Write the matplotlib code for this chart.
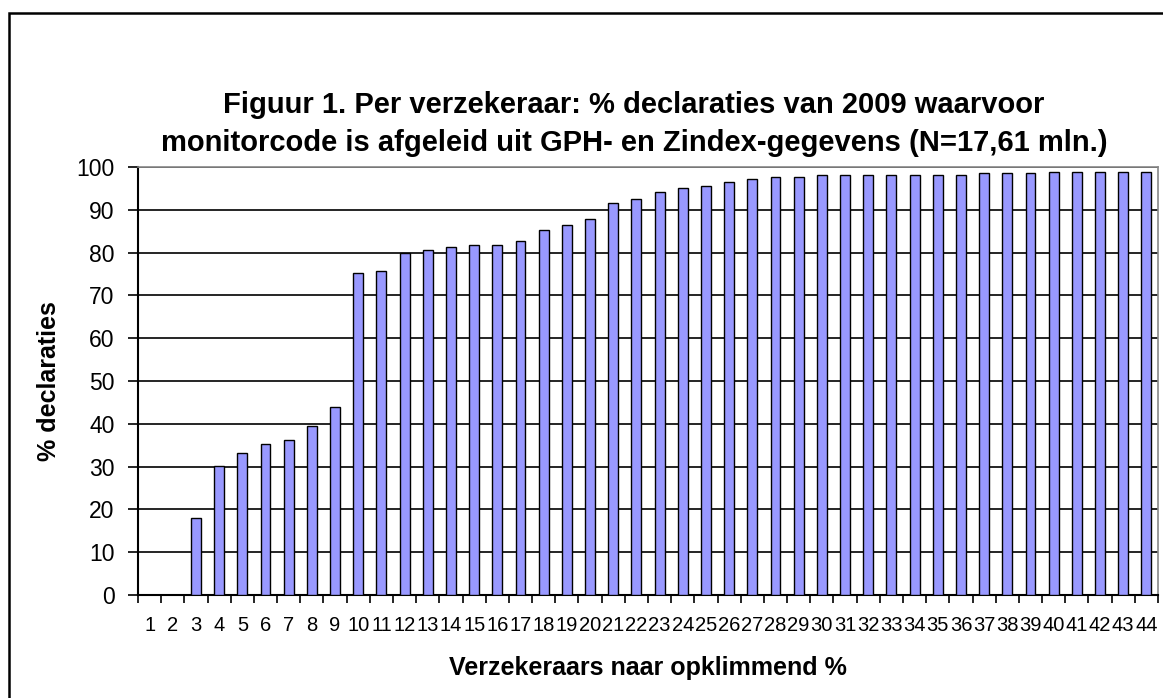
import numpy as np
import matplotlib.pyplot as plt
from matplotlib.patches import Rectangle

# verzekeraars 1..44, % declaraties (reeds gesorteerd)
verzekeraars = [str(i) for i in range(1, 45)]
percentages = [0, 0, 18.1, 30.2, 33.1, 35.3, 36.1, 39.6, 43.9, 75.2,
               75.7, 79.9, 80.5, 81.3, 81.8, 81.8, 82.6, 85.2, 86.5, 87.8,
               91.7, 92.5, 94.2, 95.0, 95.6, 96.4, 97.3, 97.7, 97.7, 98.1,
               98.1, 98.1, 98.1, 98.1, 98.1, 98.1, 98.5, 98.5, 98.5, 98.9,
               98.9, 98.9, 98.9, 98.9]
yticks = list(range(0, 101, 10))

title = ("Figuur 1. Per verzekeraar: % declaraties van 2009 waarvoor\n"
         "monitorcode is afgeleid uit GPH- en Zindex-gegevens (N=17,61 mln.)")

plt.rcParams['font.family'] = ['Liberation Sans', 'DejaVu Sans']

fig = plt.figure(figsize=(11.63, 6.98), dpi=100)
ax = fig.add_axes([138 / 1163, 1 - 595 / 698, 1020 / 1163, 428 / 698])

x = np.arange(1, len(percentages) + 1)
ax.bar(x, percentages, width=0.43, color="#9999ff", edgecolor="black",
       linewidth=1.0, zorder=3)

ax.set_xlim(0.5, len(percentages) + 0.5)
ax.set_ylim(0, 100)
ax.set_yticks(yticks)
ax.set_yticklabels([str(v) for v in yticks], fontsize=16.5)
ax.yaxis.grid(True, color="black", linewidth=1.2, zorder=0)

# tick marks between categories, labels at the centres
ax.set_xticks(np.arange(0.5, len(percentages) + 1, 1.0))
ax.set_xticklabels([])
ax.set_xticks(x, minor=True)
ax.set_xticklabels(verzekeraars, minor=True, fontsize=14.5,
                   family=['DejaVu Sans Condensed', 'Liberation Sans Narrow',
                           'Liberation Sans'])
ax.tick_params(axis="x", which="minor", length=0, pad=15)
ax.tick_params(axis="x", which="major", length=6, width=1.2, direction="out")
ax.tick_params(axis="y", length=7, width=1.2, direction="out", pad=10)

for side in ["top", "right"]:
    ax.spines[side].set_color("#888888")
    ax.spines[side].set_linewidth(1.2)
for side in ["left", "bottom"]:
    ax.spines[side].set_color("black")
    ax.spines[side].set_linewidth(1.5)

ax.set_ylabel("% declaraties", fontsize=18, fontweight="bold", labelpad=11)
ax.set_xlabel("Verzekeraars naar opklimmend %", fontsize=18,
              fontweight="bold", labelpad=15)

fig.text(634 / 1163, 1 - 124 / 698, title, ha="center", va="center",
         fontsize=21, fontweight="bold", linespacing=1.45)

# chart frame (only left and top edges are visible in the reference)
fig.patches.append(Rectangle((9 / 1163, -0.1), 1.2, 1.1 - 13 / 698,
                             transform=fig.transFigure, fill=False,
                             edgecolor="black", linewidth=1.8))

fig.savefig("out.png", dpi=100)
